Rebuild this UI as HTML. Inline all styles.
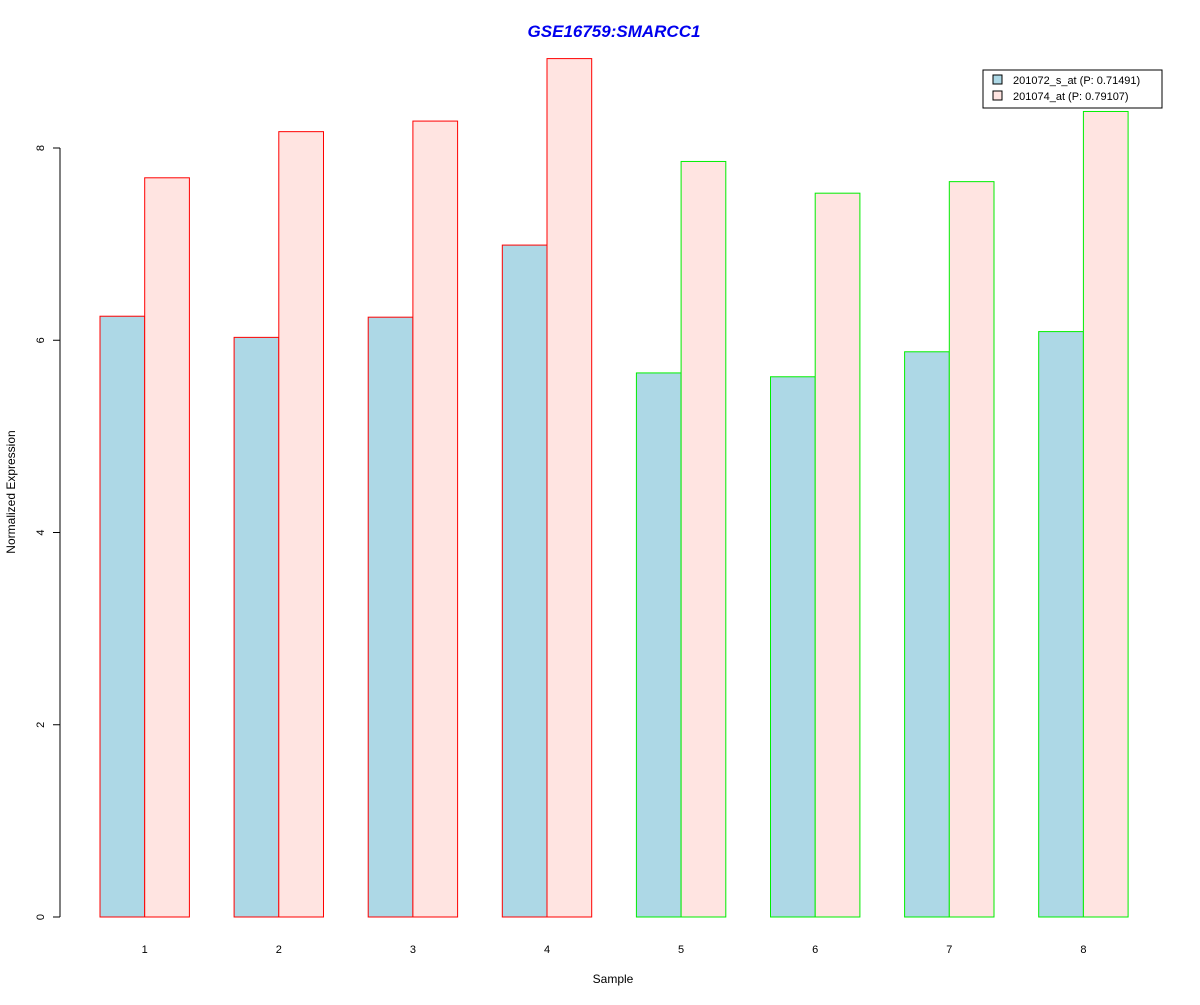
<!DOCTYPE html>
<html><head><meta charset="utf-8"><style>
body{margin:0;background:#fff;font-family:"Liberation Sans",Arial,sans-serif}
</style></head><body>
<svg id="chart" width="1200" height="1000" xmlns="http://www.w3.org/2000/svg">
<text x="614" y="37" text-anchor="middle" font-size="17" font-weight="bold" font-style="italic" fill="#0000ee">GSE16759:SMARCC1</text>
<text x="613" y="983" text-anchor="middle" font-size="12">Sample</text>
<text transform="translate(15,492) rotate(-90)" text-anchor="middle" font-size="12">Normalized Expression</text>
<g id="bars"></g>
<g id="yaxis"></g>
<g id="xlabels"></g>
<g>
<rect x="983" y="70" width="179" height="38" fill="#fff" stroke="#000"/>
<rect x="993" y="75" width="9" height="9" fill="#add8e6" stroke="#000"/>
<text x="1013" y="84" font-size="11">201072_s_at (P: 0.71491)</text>
<rect x="993" y="91" width="9" height="9" fill="#ffe4e1" stroke="#000"/>
<text x="1013" y="100" font-size="11">201074_at (P: 0.79107)</text>
</g>
</svg>
<script>
const categories=["1","2","3","4","5","6","7","8"];
const series1=[6.25,6.03,6.24,6.99,5.66,5.62,5.88,6.09];
const series2=[7.69,8.17,8.28,8.93,7.86,7.53,7.65,8.38];
const groupOf=["AD","AD","AD","AD","ctrl","ctrl","ctrl","ctrl"];
const yTicks=[0,2,4,6,8];
const NS="http://www.w3.org/2000/svg";
const y=v=>917-v*96.125;
const xStart=i=>100+i*134.1;
const bw=44.7;
const bars=document.getElementById('bars');
function mk(tag,attrs,parent){const e=document.createElementNS(NS,tag);for(const k in attrs)e.setAttribute(k,attrs[k]);parent.appendChild(e);return e;}
categories.forEach((c,i)=>{
  const stroke=groupOf[i]==="AD"?"#ff0000":"#00ee00";
  const b1=mk('rect',{x:xStart(i),y:y(series1[i]),width:bw,height:y(0)-y(series1[i]),fill:'#add8e6',stroke:stroke},bars);
  
  
  const b2=mk('rect',{x:xStart(i)+bw,y:y(series2[i]),width:bw,height:y(0)-y(series2[i]),fill:'#ffe4e1',stroke:stroke},bars);
  
  
  const t=mk('text',{x:xStart(i)+bw,y:953,'text-anchor':'middle','font-size':11},document.getElementById('xlabels'));
  t.textContent=c;
  
  
});
const ya=document.getElementById('yaxis');
const axl=mk('line',{x1:60,x2:60,y1:y(0),y2:y(8),stroke:'#000'},ya);


yTicks.forEach(v=>{
  const tk=mk('line',{x1:53,x2:60,y1:y(v),y2:y(v),stroke:'#000'},ya);
  
  
  const t=mk('text',{transform:`translate(44,${y(v)}) rotate(-90)`,'text-anchor':'middle','font-size':11},ya);
  t.textContent=v;
  
  
});
</script>
</body></html>
